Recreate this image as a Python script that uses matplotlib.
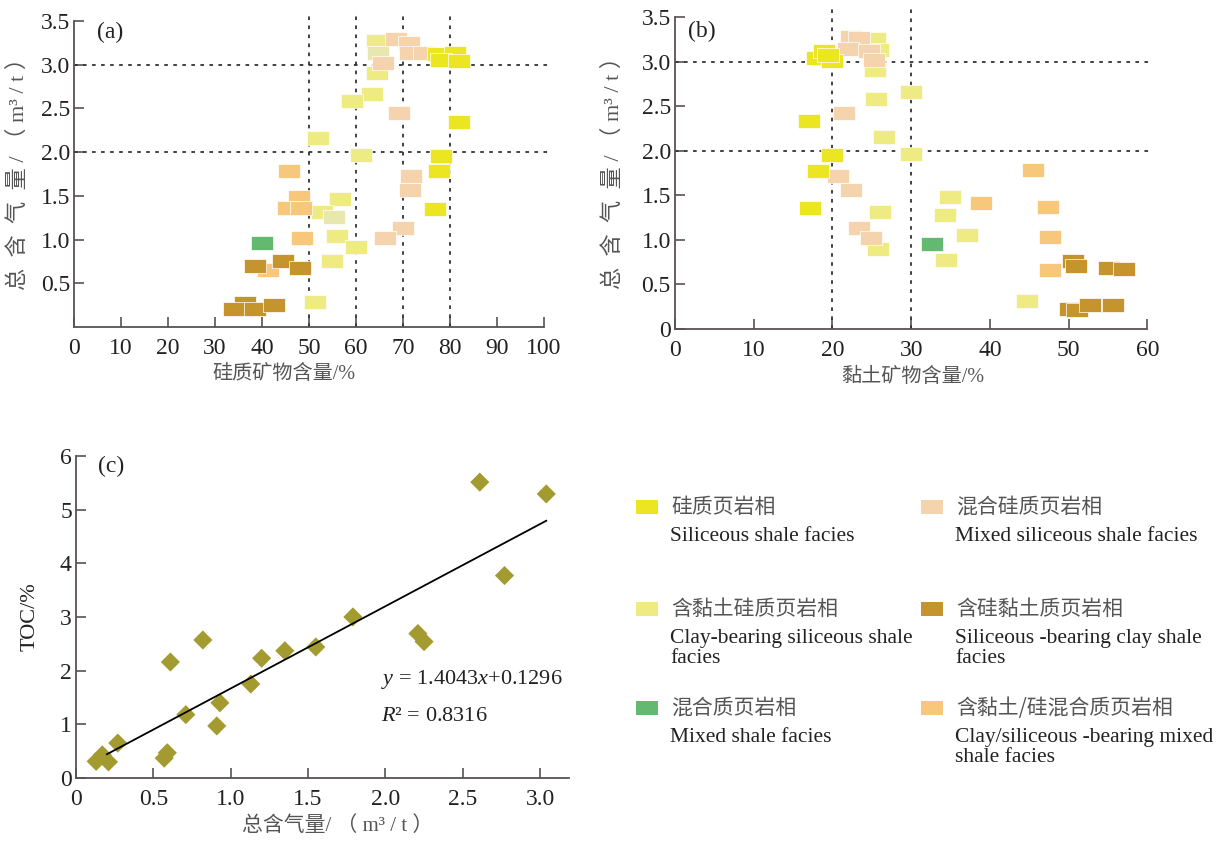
import numpy as np
import matplotlib
matplotlib.use('Agg')
import matplotlib.pyplot as plt
from matplotlib.patches import Rectangle

plt.rcParams['font.family'] = ['Liberation Serif', 'Noto Sans CJK SC', 'DejaVu Sans']
plt.rcParams['mathtext.fontset'] = 'custom'
plt.rcParams['mathtext.rm'] = 'Liberation Serif'
plt.rcParams['mathtext.it'] = 'Liberation Serif:italic'

# ---------------- data: panel (a) siliceous mineral vs gas ----------------
a_sil_x = [77.5, 81.0, 78.0, 82.0, 81.9, 78.1, 77.6, 76.9]
a_sil_y = [3.12, 3.13, 3.05, 3.04, 2.34, 1.96, 1.79, 1.35]
a_mxs_x = [68.6, 71.2, 71.5, 74.5, 65.7, 69.2, 71.6, 71.4, 70.0, 66.2]
a_mxs_y = [3.29, 3.25, 3.13, 3.14, 3.02, 2.45, 1.73, 1.57, 1.13, 1.02]
a_cbs_x = [64.5, 64.5, 63.4, 59.1, 51.9, 61.1, 56.6, 52.7, 55.9, 60.0, 54.8, 51.3]
a_cbs_y = [3.27, 2.91, 2.66, 2.59, 2.16, 1.97, 1.46, 1.31, 1.04, 0.91, 0.76, 0.29]
a_pale_x = [64.6, 55.4]
a_pale_y = [3.14, 1.26]
a_sbc_x = [38.4, 44.4, 48.0, 36.3, 34.1, 38.6, 42.6]
a_sbc_y = [0.70, 0.75, 0.67, 0.28, 0.21, 0.21, 0.25]
a_mix_x = [39.9]
a_mix_y = [0.96]
a_csm_x = [45.8, 47.9, 45.6, 48.2, 48.4, 41.3]
a_csm_y = [1.79, 1.49, 1.36, 1.36, 1.02, 0.65]

# ---------------- data: panel (b) clay mineral vs gas ----------------
b_sil_x = [18.0, 18.9, 20.0, 19.4, 17.0, 19.9, 18.2, 17.2]
b_sil_y = [3.04, 3.12, 3.01, 3.08, 2.34, 1.96, 1.78, 1.36]
b_mxs_x = [22.3, 23.4, 22.0, 24.6, 25.3, 21.5, 20.7, 22.3, 23.4, 24.9]
b_mxs_y = [3.28, 3.27, 3.15, 3.12, 3.02, 2.43, 1.72, 1.56, 1.14, 1.02]
b_cbs_x = [25.4, 25.8, 25.4, 30.0, 25.5, 26.5, 30.0, 34.9, 34.3, 26.1, 37.1, 25.8, 34.4, 44.7]
b_cbs_y = [3.26, 3.14, 2.91, 2.66, 2.58, 2.16, 1.97, 1.48, 1.28, 1.31, 1.06, 0.90, 0.78, 0.31]
b_sbc_x = [50.5, 50.9, 55.1, 57.0, 50.2, 51.1, 52.7, 55.7]
b_sbc_y = [0.76, 0.71, 0.68, 0.67, 0.23, 0.21, 0.27, 0.27]
b_mix_x = [32.7]
b_mix_y = [0.96]
b_csm_x = [45.5, 38.9, 47.4, 47.6, 47.6]
b_csm_y = [1.79, 1.42, 1.37, 1.03, 0.66]

# ---------------- data: panel (c) gas vs TOC ----------------
c_gas = [0.13, 0.17, 0.21, 0.27, 0.57, 0.59, 0.61, 0.71, 0.82, 0.91, 0.93,
         1.13, 1.20, 1.35, 1.55, 1.79, 2.21, 2.25, 2.61, 2.77, 3.04]
c_toc = [0.31, 0.43, 0.30, 0.65, 0.37, 0.47, 2.16, 1.18, 2.57, 0.97, 1.40,
         1.75, 2.23, 2.37, 2.44, 3.00, 2.69, 2.54, 5.51, 3.77, 5.29]
fit_range = [0.20, 3.04]
eq_text = r'$\it{y}$ = 1.4043$\it{x}$+0.1296'
r2_text = r'$\it{R}$² = 0.8316'

a_xticks = [0, 10, 20, 30, 40, 50, 60, 70, 80, 90, 100]
a_yticks = [0.5, 1.0, 1.5, 2.0, 2.5, 3.0, 3.5]
b_xticks = [0, 10, 20, 30, 40, 50, 60]
b_yticks = [0, 0.5, 1.0, 1.5, 2.0, 2.5, 3.0, 3.5]
b_ylabels = ['0', '0.5', '1.0', '1.5', '2.0', '2.5', '3.0', '3.5']
c_xticks = [0, 0.5, 1.0, 1.5, 2.0, 2.5, 3.0]
c_xlabels = ['0', '0.5', '1.0', '1.5', '2.0', '2.5', '3.0']
c_yticks = [0, 1, 2, 3, 4, 5, 6]

gas_label = '总  含  气  量 / （ m³ / t ）'
facies_cn = ['硅质页岩相', '混合硅质页岩相', '含黏土硅质页岩相', '含硅黏土质页岩相',
             '混合质页岩相', '含黏土/硅混合质页岩相']
facies_en = ['Siliceous shale facies', 'Mixed siliceous shale facies',
             'Clay-bearing siliceous shale\nfacies', 'Siliceous -bearing clay shale\nfacies',
             'Mixed shale facies', 'Clay/siliceous -bearing mixed\nshale facies']

# ---------------- style ----------------
C_SIL = '#ECE521'
C_MXS = '#F5D3AC'
C_CBS = '#EDEB82'
C_SBC = '#C6942D'
C_MIX = '#63B96F'
C_CSM = '#F7C77B'
C_PALE = '#E8E7B0'
C_DIA = '#A39B30'
facies_colors = [C_SIL, C_MXS, C_CBS, C_SBC, C_MIX, C_CSM]
SPINE = '#5a5252'
TXT = '#222222'
CN = '#555555'

rect_marker = [(-1, -0.62), (1, -0.62), (1, 0.62), (-1, 0.62), (-1, -0.62)]
MS = 245

fig = plt.figure(figsize=(12.26, 8.41), dpi=100)
fig.patch.set_facecolor('white')


def style_axes(ax):
    for s in ['top', 'right']:
        ax.spines[s].set_visible(False)
    for s in ['left', 'bottom']:
        ax.spines[s].set_color(SPINE)
        ax.spines[s].set_linewidth(1.3)
    ax.tick_params(direction='in', colors=SPINE, labelcolor=TXT, labelsize=17,
                   width=1.2, length=7)
    ax.tick_params(axis='x', pad=8)
    ax.tick_params(axis='y', pad=3)


def facies_scatter(ax, series):
    for x, y, c in series:
        ax.scatter(x, y, marker=rect_marker, s=MS, c=c, edgecolors='white',
                   linewidths=0.5, zorder=3)


def dotted(ax, xs, ys):
    for x in xs:
        ax.axvline(x, color='#333333', lw=1.3, ls=(0, (2, 3)), zorder=2)
    for y in ys:
        ax.axhline(y, color='#333333', lw=1.3, ls=(0, (2, 3)), zorder=2)


# ---------------- panel (a) ----------------
ax1 = fig.add_axes([0.0604, 0.6112, 0.3891, 0.3762])
style_axes(ax1)
dotted(ax1, [50, 60, 70, 80], [3.0, 2.0])
facies_scatter(ax1, [(a_cbs_x, a_cbs_y, C_CBS), (a_pale_x, a_pale_y, C_PALE),
                     (a_mxs_x, a_mxs_y, C_MXS), (a_sil_x, a_sil_y, C_SIL),
                     (a_csm_x, a_csm_y, C_CSM), (a_sbc_x, a_sbc_y, C_SBC),
                     (a_mix_x, a_mix_y, C_MIX)])
ax1.set_xlim(0, 101.5)
ax1.set_ylim(0, 3.62)
ax1.spines['left'].set_bounds(0, 3.5)
ax1.spines['bottom'].set_bounds(0, 100)
ax1.set_xticks(a_xticks)
ax1.set_yticks(a_yticks)
ax1.set_yticklabels(['%.1f' % v for v in a_yticks])
ax1.set_xlabel('硅质矿物含量/%', fontsize=14.5, color=CN)
ax1.xaxis.set_label_coords(0.44, -0.12)
ax1.set_ylabel(gas_label, fontsize=16, color=CN)
ax1.yaxis.set_label_coords(-0.094, 0.5)
ax1.text(4.8, 3.37, '(a)', fontsize=17, va='center', color=TXT)

# ---------------- panel (b) ----------------
ax2 = fig.add_axes([0.5506, 0.6088, 0.3884, 0.3831])
style_axes(ax2)
dotted(ax2, [20, 30], [3.0, 2.0])
facies_scatter(ax2, [(b_cbs_x, b_cbs_y, C_CBS), (b_mxs_x, b_mxs_y, C_MXS),
                     (b_sil_x, b_sil_y, C_SIL), (b_csm_x, b_csm_y, C_CSM),
                     (b_sbc_x, b_sbc_y, C_SBC), (b_mix_x, b_mix_y, C_MIX)])
ax2.set_xlim(0, 60.5)
ax2.set_ylim(0, 3.62)
ax2.spines['left'].set_bounds(0, 3.5)
ax2.spines['bottom'].set_bounds(0, 60)
ax2.set_xticks(b_xticks)
ax2.set_yticks(b_yticks)
ax2.set_yticklabels(b_ylabels)
ax2.set_xlabel('黏土矿物含量/%', fontsize=14.5, color=CN)
ax2.xaxis.set_label_coords(0.5, -0.12)
ax2.set_ylabel(gas_label, fontsize=16, color=CN)
ax2.yaxis.set_label_coords(-0.108, 0.5)
ax2.text(1.6, 3.34, '(b)', fontsize=17, va='center', color=TXT)

# ---------------- panel (c) ----------------
ax3 = fig.add_axes([0.0620, 0.0749, 0.4025, 0.3831])
style_axes(ax3)
ax3.scatter(c_gas, c_toc, marker='D', s=95, c=C_DIA, edgecolors='none', zorder=3)
k, b = np.polyfit(c_gas, c_toc, 1)
xf = np.array(fit_range)
ax3.plot(xf, k * xf + b, color='black', lw=1.3, zorder=4)
ax3.set_xlim(0, 3.19)
ax3.set_ylim(0, 6)
ax3.set_xticks(c_xticks)
ax3.set_xticklabels(c_xlabels)
ax3.set_yticks(c_yticks)
ax3.set_xlabel('总含气量/ （ m³ / t ）', fontsize=15, color=CN)
ax3.xaxis.set_label_coords(0.53, -0.12)
ax3.set_ylabel('TOC/%', fontsize=16, color=TXT)
ax3.yaxis.set_label_coords(-0.073, 0.5)
ax3.text(1.97, 1.83, eq_text, fontsize=16, va='center', color=TXT)
ax3.text(1.97, 1.14, r2_text, fontsize=16, va='center', color=TXT)
ax3.text(0.14, 5.8, '(c)', fontsize=17, va='center', color=TXT)

# ---------------- legend ----------------
W, H = 1226.0, 841.0
col_x = [636, 921]
row_y = [507, 609, 708]
for i, (cn, en, col) in enumerate(zip(facies_cn, facies_en, facies_colors)):
    cx = col_x[i % 2]
    ry = row_y[i // 2]
    fig.patches.append(Rectangle((cx / W, 1 - (ry + 7) / H), 22 / W, 14 / H,
                                 transform=fig.transFigure, facecolor=col,
                                 edgecolor='none'))
    fig.text((cx + 35) / W, 1 - ry / H, cn, fontsize=15, color=CN, va='center',
             ha='left', family=['Noto Sans CJK SC', 'DejaVu Sans'])
    fig.text((cx + 34) / W, 1 - (ry + 20) / H, en, fontsize=15.5, color=TXT,
             va='top', ha='left', linespacing=1.05)

fig.savefig('out.png', dpi=100)
